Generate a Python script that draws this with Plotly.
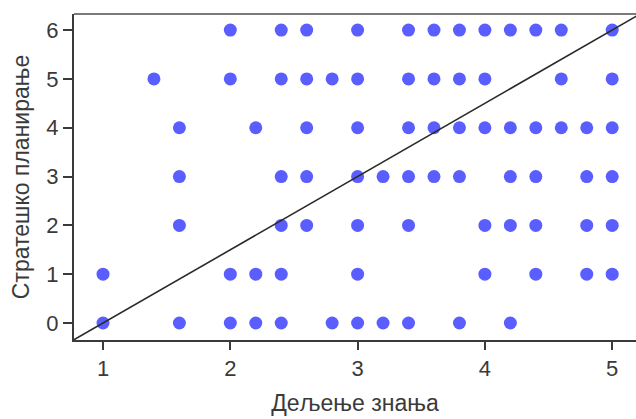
import plotly.graph_objects as go

# Observed score pairs, grouped by the planning score (y)
x_at_y6 = [2.0, 2.4, 2.6, 3.0, 3.4, 3.6, 3.8, 4.0, 4.2, 4.4, 4.6, 5.0]
x_at_y5 = [1.4, 2.0, 2.4, 2.6, 2.8, 3.0, 3.4, 3.6, 3.8, 4.0, 4.6, 5.0]
x_at_y4 = [1.6, 2.2, 2.6, 3.0, 3.4, 3.6, 3.8, 4.0, 4.2, 4.4, 4.6, 4.8, 5.0]
x_at_y3 = [1.6, 2.4, 2.6, 3.0, 3.2, 3.4, 3.6, 3.8, 4.2, 4.4, 4.8, 5.0]
x_at_y2 = [1.6, 2.4, 2.6, 3.0, 3.4, 4.0, 4.2, 4.4, 4.8, 5.0]
x_at_y1 = [1.0, 2.0, 2.2, 2.4, 3.0, 4.0, 4.4, 4.8, 5.0]
x_at_y0 = [1.0, 1.6, 2.0, 2.2, 2.4, 2.8, 3.0, 3.2, 3.4, 3.8, 4.2]

rows = {6: x_at_y6, 5: x_at_y5, 4: x_at_y4, 3: x_at_y3,
        2: x_at_y2, 1: x_at_y1, 0: x_at_y0}

x_vals = []
y_vals = []
for yv, xs in rows.items():
    x_vals.extend(xs)
    y_vals.extend([yv] * len(xs))

# Reference line y = slope * x + intercept
line_slope = 1.5
line_intercept = -1.5
line_x = [0.6, 5.4]
line_y = [line_slope * v + line_intercept for v in line_x]

x_ticks = [1, 2, 3, 4, 5]
y_ticks = [0, 1, 2, 3, 4, 5, 6]

x_range = [0.772, 5.187]
y_range = [-0.348, 6.33]

font_family = "Liberation Sans, Arial, sans-serif"
axis_color = "#3a3a3a"
text_color = "#3a3a3a"

fig = go.Figure()
fig.add_trace(go.Scatter(
    x=x_vals, y=y_vals, mode="markers",
    marker=dict(size=13, color="#5a5eff", line=dict(width=0)),
    showlegend=False, hoverinfo="x+y",
))
fig.add_trace(go.Scatter(
    x=line_x, y=line_y, mode="lines",
    line=dict(color="#2a2a2a", width=1.6),
    showlegend=False, hoverinfo="skip",
))

fig.update_layout(
    width=636, height=419,
    margin=dict(l=74, r=0, t=14, b=79),
    paper_bgcolor="white", plot_bgcolor="white",
    font=dict(family=font_family, color=text_color),
    xaxis=dict(
        range=x_range, tickvals=x_ticks, ticktext=[str(t) for t in x_ticks],
        showgrid=False, zeroline=False,
        showline=True, linecolor=axis_color, linewidth=2,
        ticks="outside", ticklen=8, tickwidth=2, tickcolor=axis_color,
        tickfont=dict(size=22, color=text_color),
        title=dict(text="Дељење знања", font=dict(size=23, color=text_color), standoff=14),
    ),
    yaxis=dict(
        range=y_range, tickvals=y_ticks, ticktext=[str(t) for t in y_ticks],
        showgrid=False, zeroline=False,
        showline=True, linecolor=axis_color, linewidth=2,
        ticks="outside", ticklen=9, tickwidth=2, tickcolor=axis_color,
        tickfont=dict(size=22, color=text_color),
        title=dict(text="Стратешко планирање", font=dict(size=23, color=text_color), standoff=10),
    ),
    shapes=[dict(
        type="line", xref="paper", yref="paper", x0=0, x1=1, y0=1, y1=1,
        line=dict(color="#7a7a7a", width=2),
    )],
)

fig.write_html("out.html")
